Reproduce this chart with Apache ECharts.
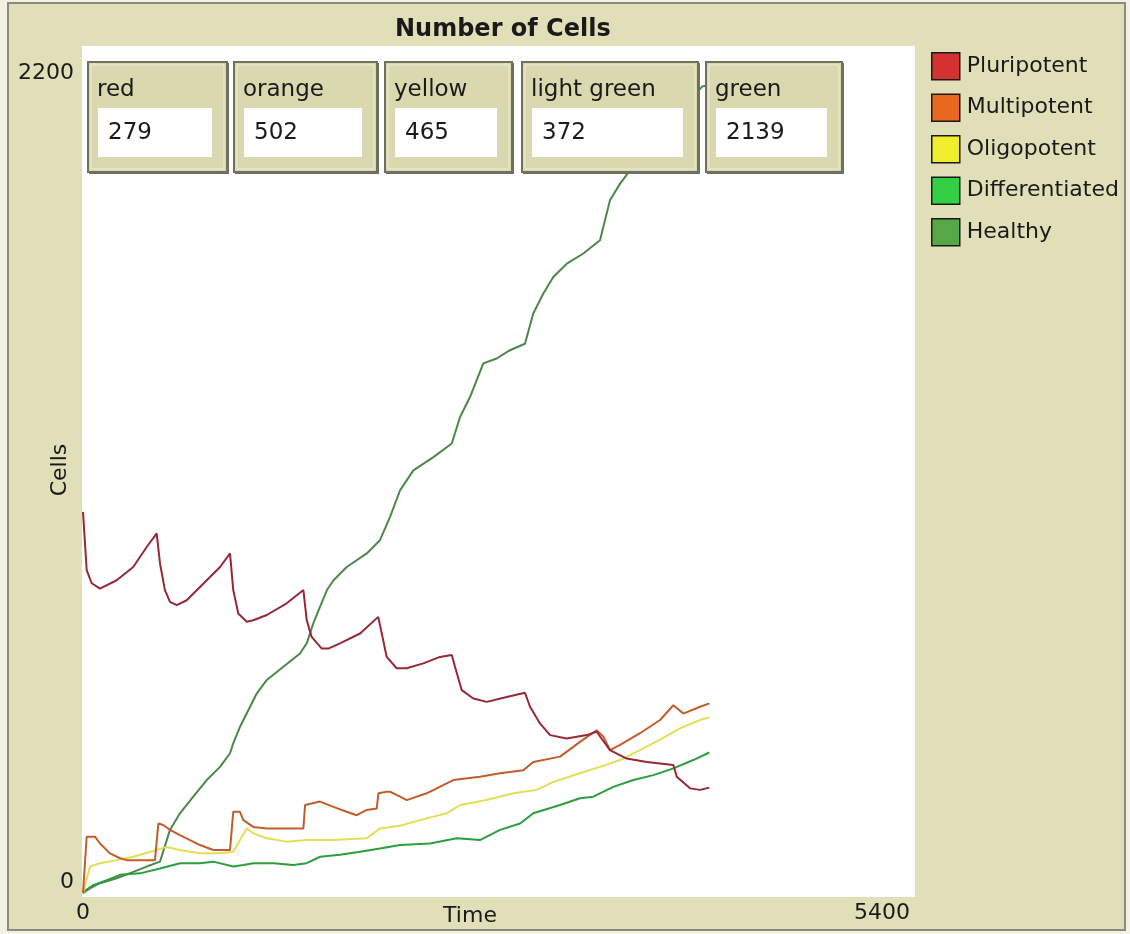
<!DOCTYPE html>
<html>
<head>
<meta charset="utf-8">
<script src="https://cdn.jsdelivr.net/npm/echarts@6/dist/echarts.min.js"></script>
<style>
html,body{margin:0;padding:0;background:#f2f1e2;}
#chart{width:1130px;height:934px;}
</style>
</head>
<body>
<div id="chart"></div>
<script>
// ---- data ----
const seriesNames = ['Pluripotent', 'Multipotent', 'Oligopotent', 'Differentiated', 'Healthy'];
const xTicks = [0, 5400];
const yTicks = [0, 2200];
const monitorLabels = ['red', 'orange', 'yellow', 'light green', 'green'];
const monitorValues = [279, 502, 465, 372, 2139];

const pluripotent = [
  [0,1009],[24,855],[57,820],[111,806],[220,828],[328,863],[416,916],[481,952],
  [503,872],[535,802],[568,771],[612,762],[677,775],[808,828],[895,863],[960,899],
  [981,802],[1014,740],[1069,718],[1112,722],[1200,736],[1330,767],[1439,802],
  [1461,722],[1493,678],[1559,647],[1602,647],[1678,661],[1809,687],[1928,731],
  [1983,625],[2048,595],[2114,595],[2222,608],[2331,625],[2408,630],
  [2429,599],[2473,537],[2549,515],[2636,506],[2767,519],[2886,530],
  [2919,493],[2984,449],[3050,418],[3159,409],[3289,418],[3354,427],
  [3441,378],[3550,356],[3681,347],[3855,339],[3877,308],[3964,277],[4029,273],[4090,279]
];
const multipotent = [
  [0,0],[24,149],[78,149],[111,131],[176,105],[242,92],[285,87],[470,87],
  [492,184],[524,180],[568,167],[633,153],[699,140],[764,127],[851,114],[960,114],
  [981,215],[1025,215],[1047,193],[1112,175],[1200,171],[1439,171],
  [1450,233],[1548,242],[1635,228],[1722,215],[1787,206],[1853,220],[1918,224],
  [1929,264],[1983,268],[2005,268],[2070,255],[2114,246],[2244,264],[2418,299],
  [2592,308],[2723,317],[2875,325],[2940,347],[3115,361],[3245,400],[3354,431],
  [3398,414],[3441,378],[3507,392],[3637,423],[3768,458],[3855,497],[3920,475],
  [4029,493],[4090,502]
];
const oligopotent = [
  [0,0],[46,70],[111,79],[220,87],[328,96],[481,114],[546,122],[633,114],
  [764,105],[895,105],[981,109],[1069,171],[1112,158],[1200,145],[1330,136],
  [1461,140],[1635,140],[1853,145],[1939,171],[2070,178],[2201,193],[2375,211],
  [2462,233],[2636,246],[2810,264],[2963,273],[3071,294],[3245,317],[3376,334],
  [3507,352],[3637,378],[3768,406],[3898,436],[4029,458],[4090,465]
];
const differentiated = [
  [0,0],[24,9],[67,21],[155,34],[242,48],[372,52],[503,65],[633,79],[764,79],
  [851,83],[981,70],[1047,74],[1112,79],[1243,79],[1373,74],[1461,79],[1548,96],
  [1678,101],[1809,109],[1939,118],[2070,127],[2266,131],[2440,145],[2592,140],
  [2723,167],[2854,184],[2940,211],[3115,233],[3245,251],[3332,255],[3463,281],
  [3594,299],[3724,312],[3855,330],[3985,352],[4090,372]
];
const healthy = [
  [0,0],[46,12],[111,26],[220,39],[328,56],[416,70],[503,83],[568,167],[633,211],
  [720,255],[808,299],[895,334],[960,370],[981,396],[1025,440],[1091,493],[1134,528],
  [1200,564],[1308,599],[1417,634],[1461,661],[1504,714],[1548,758],[1593,802],
  [1636,828],[1722,863],[1853,899],[1939,934],[2005,996],[2070,1066],[2157,1119],
  [2288,1154],[2408,1190],[2462,1260],[2527,1313],[2614,1402],[2701,1415],[2788,1437],
  [2886,1454],[2940,1534],[3006,1587],[3071,1631],[3159,1666],[3267,1693],[3376,1728],
  [3441,1834],[3507,1878],[3572,1913],[4042,2135],[4090,2139]
];
const seriesData = [pluripotent, multipotent, oligopotent, differentiated, healthy];

// ---- styles ----
const lineColors = ['#962838', '#c05e2a', '#e2de58', '#2c9e3e', '#4c884a'];
const swatchColors = ['#d43232', '#e8681e', '#f0ee2a', '#32d045', '#55a845'];
const FONT = 'DejaVu Sans';
const BG = '#e0dfb8';
const TXT = '#1a1a1a';

// monitor layout (pixels)
const monBoxes = [[88,140],[234,144],[385,128],[522,177],[706,137]];
const monTop = 62, monH = 111;

const chart = echarts.init(document.getElementById('chart'));

const graphics = [];
// outer panel
graphics.push({type:'rect', z:-10, shape:{x:8,y:3,width:1117,height:927}, style:{fill:BG, stroke:'#8a8a80', lineWidth:2}});
// plot white area
graphics.push({type:'rect', z:-5, shape:{x:82,y:46,width:833,height:851}, style:{fill:'#ffffff'}});
// monitors
monitorLabels.forEach((lab, i) => {
  const [bx, bw] = monBoxes[i];
  graphics.push({type:'rect', z:100, shape:{x:bx+1,y:monTop+1,width:bw,height:monH}, style:{fill:'#6e6e60'}});
  graphics.push({type:'rect', z:101, shape:{x:bx,y:monTop,width:bw-1,height:monH-1}, style:{fill:'#d9d8ae', stroke:'#70705f', lineWidth:2}});
  graphics.push({type:'rect', z:102, shape:{x:bx+3,y:monTop+3,width:bw-7,height:monH-7}, style:{fill:'none', stroke:'#eeeed8', lineWidth:1}});
  graphics.push({type:'rect', z:103, shape:{x:bx+10,y:108,width:bw-26,height:49}, style:{fill:'#ffffff'}});
  graphics.push({type:'text', z:104, x:bx+9, y:90, style:{text:lab, font:'23px "DejaVu Sans"', fill:TXT, verticalAlign:'middle'}});
  graphics.push({type:'text', z:104, x:bx+20, y:133, style:{text:String(monitorValues[i]), font:'23px "DejaVu Sans"', fill:TXT, verticalAlign:'middle'}});
});
// axis names
graphics.push({type:'text', z:50, x:470, y:916, style:{text:'Time', font:'22px "DejaVu Sans"', fill:TXT, align:'center', verticalAlign:'middle'}});
graphics.push({type:'text', z:50, x:60, y:470, rotation:Math.PI/2, style:{text:'Cells', font:'22px "DejaVu Sans"', fill:TXT, align:'center', verticalAlign:'middle'}});

const option = {
  animation:false,
  backgroundColor:'#f2f1e2',
  textStyle:{fontFamily:FONT},
  title:{
    text:'Number of Cells', left:390, top:13,
    textStyle:{fontFamily:FONT, fontSize:24, fontWeight:'bold', color:TXT}
  },
  legend:{
    orient:'vertical', left:926, top:47, itemWidth:28, itemHeight:27, itemGap:13,
    icon:'rect',
    textStyle:{fontFamily:FONT, fontSize:22, color:TXT, padding:[0,0,0,2]},
    data: seriesNames.map((n,i)=>({name:n, itemStyle:{color:swatchColors[i], borderColor:'#1a1a1a', borderWidth:1.5}}))
  },
  grid:{left:83, right:220, top:62, bottom:41, containLabel:false},
  xAxis:{
    type:'value', min:xTicks[0], max:xTicks[1], interval:xTicks[1]-xTicks[0],
    axisLine:{show:false}, axisTick:{show:false}, splitLine:{show:false},
    axisLabel:{fontFamily:FONT, fontSize:22, color:TXT, margin:9, alignMaxLabel:'right', formatter:v=>String(v)}
  },
  yAxis:{
    type:'value', min:yTicks[0], max:yTicks[1], interval:yTicks[1]-yTicks[0],
    axisLine:{show:false}, axisTick:{show:false}, splitLine:{show:false},
    axisLabel:{fontFamily:FONT, fontSize:22, color:TXT, margin:9, verticalAlignMinLabel:'bottom', verticalAlignMaxLabel:'top', formatter:v=>String(v)}
  },
  graphic: graphics,
  series: seriesNames.map((n,i)=>({
    name:n, type:'line', data:seriesData[i], showSymbol:false, symbol:'none',
    itemStyle:{color:swatchColors[i]},
    lineStyle:{color:lineColors[i], width:2},
    z: 2 + (4-i)
  }))
};
chart.setOption(option);
</script>
</body>
</html>
